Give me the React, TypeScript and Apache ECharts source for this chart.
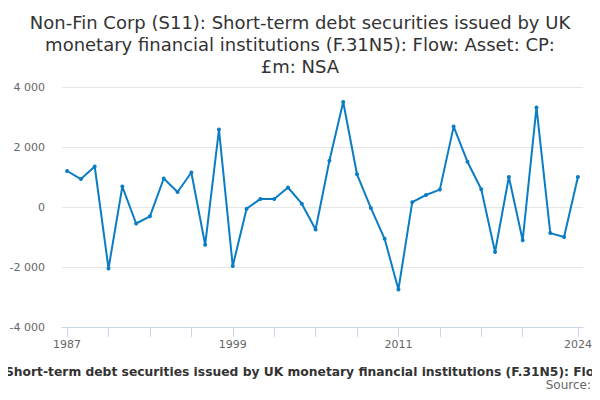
import React, { useEffect, useRef } from "react";
import * as echarts from "echarts";

const years = [
  1987, 1988, 1989, 1990, 1991, 1992, 1993, 1994, 1995, 1996, 1997, 1998, 1999,
  2000, 2001, 2002, 2003, 2004, 2005, 2006, 2007, 2008, 2009, 2010, 2011, 2012,
  2013, 2014, 2015, 2016, 2017, 2018, 2019, 2020, 2021, 2022, 2023, 2024,
];
const values = [
  1200, 930, 1350, -2050, 680, -550, -310, 950, 500, 1150, -1260, 2580, -1970,
  -60, 270, 265, 650, 110, -750, 1540, 3500, 1090, -30, -1060, -2750, 160,
  400, 580, 2680, 1510, 590, -1500, 1000, -1110, 3320, -870, -1000, 1000,
];
const tickYears = [1987, 1990, 1993, 1996, 1999, 2002, 2005, 2008, 2011, 2014, 2017, 2020, 2024];
const labelYears = [1987, 1999, 2011, 2024];
const titleText =
  "Non-Fin Corp (S11): Short-term debt securities issued by UK\nmonetary financial institutions (F.31N5): Flow: Asset: CP:\n£m: NSA";
const subtitleText =
  "Short-term debt securities issued by UK monetary financial institutions (F.31N5): Flow: Asset: CP: £m: NSA";

export default function App() {
  const ref = useRef<HTMLDivElement>(null);
  useEffect(() => {
    if (!ref.current) return;
    const chart = echarts.init(ref.current, undefined, { renderer: "svg" });
    const font = "'DejaVu Sans', sans-serif";
    chart.setOption({
      animation: false,
      textStyle: { fontFamily: font },
      title: {
        text: titleText,
        left: "center",
        top: 6,
        textStyle: {
          fontFamily: font,
          fontSize: 18,
          fontWeight: "normal",
          color: "#333333",
          lineHeight: 22,
        },
      },
      graphic: [
        {
          type: "text",
          left: 5,
          top: 366,
          style: {
            text: subtitleText,
            font: "bold 12.3px 'DejaVu Sans', sans-serif",
            fill: "#333333",
          },
        },
        {
          type: "text",
          right: 9,
          top: 379,
          style: {
            text: "Source:",
            font: "12px 'DejaVu Sans', sans-serif",
            fill: "#666666",
          },
        },
      ],
      grid: { left: 62, right: 17, top: 87, bottom: 73, containLabel: false },
      xAxis: {
        type: "value",
        min: 1986.63,
        max: 2024.37,
        splitLine: { show: false },
        axisLine: { show: true, onZero: false, lineStyle: { color: "#ccd6eb" } },
        axisTick: {
          show: true,
          length: 10,
          lineStyle: { color: "#ccd6eb" },
          customValues: tickYears,
        },
        axisLabel: {
          customValues: labelYears,
          color: "#666666",
          fontSize: 11,
          margin: 12,
          formatter: (v: number) => String(v),
        },
      },
      yAxis: {
        type: "value",
        min: -4000,
        max: 4000,
        interval: 2000,
        axisLine: { show: false },
        axisTick: { show: false },
        splitLine: { lineStyle: { color: "#e6e6e6" } },
        axisLabel: {
          color: "#666666",
          fontSize: 11,
          margin: 17,
          formatter: (v: number) => {
            const s = Math.abs(v).toString().replace(/\B(?=(\d{3})+(?!\d))/g, " ");
            return (v < 0 ? "-" : "") + s;
          },
        },
      },
      series: [
        {
          type: "line",
          data: years.map((y, i) => [y, values[i]]),
          symbol: "circle",
          symbolSize: 4,
          lineStyle: { color: "#0a7dc4", width: 2 },
          itemStyle: { color: "#0a7dc4" },
        },
      ],
    });
    return () => chart.dispose();
  }, []);
  return <div ref={ref} style={{ width: 600, height: 400, marginLeft: -8, marginTop: -8 }} />;
}
